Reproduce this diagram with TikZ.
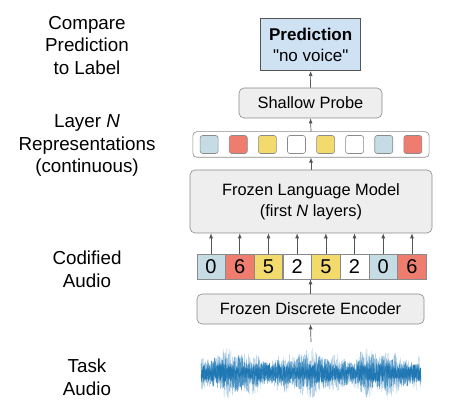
\documentclass[tikz,border=0pt]{standalone}
\usepackage{fontspec}
\setmainfont{Liberation Sans}
\usepackage{tikz}
\usetikzlibrary{matrix}
\usetikzlibrary{arrows.meta}
\usetikzlibrary{positioning}

\definecolor{predblue}{HTML}{CFE2F3}
\definecolor{boxgray}{HTML}{EEEEEE}
\definecolor{edgegray}{HTML}{8A8A8A}
\definecolor{arrowgray}{HTML}{555555}
\definecolor{tokblue}{HTML}{C5DCE4}
\definecolor{tokred}{HTML}{EE7D70}
\definecolor{tokyellow}{HTML}{F3DA6C}
\definecolor{wave}{HTML}{1F77B4}

\tikzset{
	stage/.style={draw=edgegray, fill=boxgray, rounded corners=5pt, line width=0.6pt,
	align=center, font=\fontsize{16.4}{21}\selectfont},
	flow/.style={draw=arrowgray, line width=0.7pt, -{Latex[length=5pt,width=4pt]}},
	sidelabel/.style={align=center, font=\fontsize{18.8}{22.7}\selectfont},
}

\begin{document}
\begin{tikzpicture}[x=1pt, y=-1pt]
			\useasboundingbox (0,0) rectangle (469,406);

			% labels on the left
			\node[sidelabel] (compare) at (87,45.5) {Compare\\Prediction\\to Label};
			\node[sidelabel] (layern) at (87,145.5) {Layer \textit{N}\\Representations\\(continuous)};
			\node[sidelabel] (codified) at (87,269.5) {Codified\\Audio};
			\node[sidelabel] (task) at (87,377.5) {Task\\Audio};

			% pipeline
			\node[stage, draw=arrowgray, fill=predblue, rounded corners=0pt,
				minimum width=100pt, minimum height=52pt, font=\fontsize{17}{21}\selectfont] (pred) at (310.7,44.7)
				{\textbf{Prediction}\\\textquotedbl no voice\textquotedbl};
			\node[stage, minimum width=143pt, minimum height=30pt] (probe) at (310.5,103) {Shallow Probe};

			\matrix[%
				matrix of nodes, nodes in empty cells,
				draw=edgegray, fill=white, rounded corners=4pt, line width=0.6pt,
				inner xsep=7pt, inner ysep=3.5pt, column sep=10.5pt,
				nodes={draw=edgegray, fill=white, minimum size=18pt, rounded corners=2.5pt,
				inner sep=0pt, anchor=center},
				column 1/.style={nodes={fill=tokblue}},
				column 2/.style={nodes={fill=tokred}},
				column 3/.style={nodes={fill=tokyellow}},
				column 5/.style={nodes={fill=tokyellow}},
				column 7/.style={nodes={fill=tokblue}},
				column 8/.style={nodes={fill=tokred}},
				ampersand replacement=\&
			]
			(reps) at (311,144.5) {%
				\& \& \& \& \& \& \& \\
			};

			\node[stage, minimum width=242pt, minimum height=63pt] (lm) at (311,201.5)
				{Frozen Language Model\\(first \textit{N} layers)};

			\matrix[%
				matrix of nodes, inner sep=0pt,
				row sep=-\pgflinewidth, column sep=-\pgflinewidth,
				nodes={draw=edgegray, line width=0.6pt, minimum width=28.5pt, minimum height=24.7pt,
				inner sep=0pt, font=\fontsize{20}{20}\selectfont, anchor=center},
				column 1/.style={nodes={fill=tokblue}},
				column 2/.style={nodes={fill=tokred}},
				column 3/.style={nodes={fill=tokyellow}},
				column 4/.style={nodes={fill=white}},
				column 5/.style={nodes={fill=tokyellow}},
				column 6/.style={nodes={fill=white}},
				column 7/.style={nodes={fill=tokblue}},
				column 8/.style={nodes={fill=tokred}},
				ampersand replacement=\&
			]
			(tokens) at (311.5,266.7) {%
				0 \& 6 \& 5 \& 2 \& 5 \& 2 \& 0 \& 6 \\
			};

			\node[stage, minimum width=227pt, minimum height=30pt] (enc) at (310.5,309) {Frozen Discrete Encoder};

			% waveform
			\pgfmathsetseed{42}
			\draw[wave!45, line width=0.3pt] plot[domain=201:421, samples=1200]
				(\x, {373+(19+4*sin(5*\x)+4*sin(13*\x+30))*rand});
			\draw[wave!80, line width=0.35pt] plot[domain=201:421, samples=1500]
				(\x, {373+(14+3*sin(5*\x)+2*sin(17*\x))*rand});
			\draw[wave, line width=0.35pt] plot[domain=201:421, samples=1500]
				(\x, {373+(8+2*sin(7*\x))*rand});
			\coordinate (wavetop) at (311,342);

			% arrows
			\draw[flow] (wavetop) -- (enc.south);
			\draw[flow] (enc.north) -- (enc.north |- tokens-1-1.south);
			\foreach \i in {1,...,8}
				\draw[flow] (tokens-1-\i.north) -- (tokens-1-\i.north |- lm.south);
			\draw[flow] (lm.north) -- (lm.north |- reps.south);
			\draw[flow] (reps.north) -- (probe.south);
			\draw[flow] (probe.north) -- (pred.south);
\end{tikzpicture}
\end{document}
